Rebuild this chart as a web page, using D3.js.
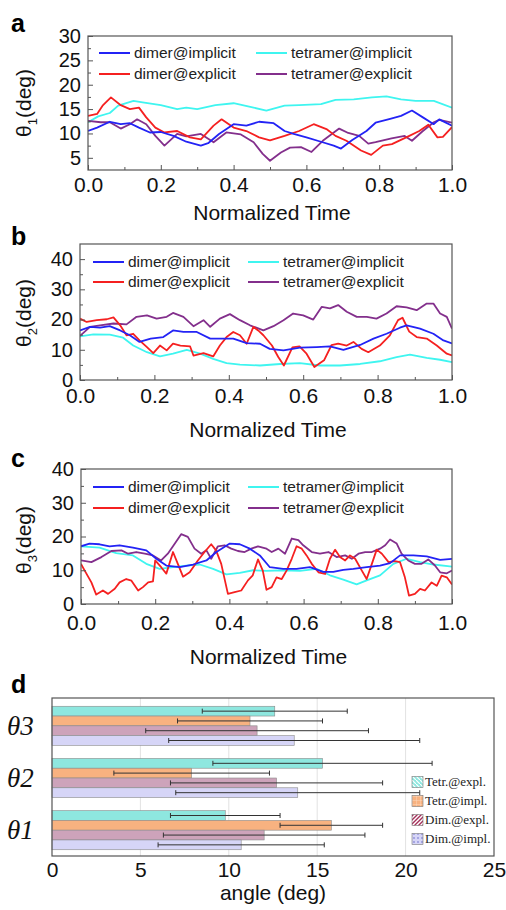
<!DOCTYPE html>
<html>
<head>
<meta charset="utf-8">
<script src="https://cdn.jsdelivr.net/npm/d3@7"></script>
<style>
    body { margin: 0; background: white; }
    svg { display: block; font-family: "Liberation Sans", Arial, sans-serif; }
</style>
</head>
<body>
<div id="chart"></div>
<script>

// panel a : theta1 vs normalized time  [t, deg]
var aDimerImpl = [[0,10.5],[0.025,11.2],[0.06,12.4],[0.09,11.9],[0.115,12.1],[0.14,11.2],[0.17,10.2],[0.2,10.3],[0.235,9.5],[0.27,8.3],[0.31,7.5],[0.33,8],[0.36,9.9],[0.4,11.9],[0.435,11.6],[0.47,12.4],[0.51,12.1],[0.54,10.5],[0.565,9.9],[0.6,9.2],[0.64,8.3],[0.675,7.5],[0.695,6.9],[0.725,8.6],[0.765,10.5],[0.79,12.2],[0.83,13],[0.86,13.6],[0.89,14.7],[0.92,13.3],[0.95,11.9],[0.965,12.9],[1.0,11.6]];
var aDimerExpl = [[0,13.6],[0.025,14],[0.04,15.7],[0.063,17.4],[0.09,15.8],[0.115,15],[0.14,15.3],[0.16,13.3],[0.185,11.2],[0.21,10.2],[0.245,10.5],[0.28,9.2],[0.31,8.8],[0.345,11.6],[0.367,12.9],[0.4,11.2],[0.435,10.5],[0.47,9.2],[0.5,8.6],[0.54,9.5],[0.58,10.5],[0.62,11.9],[0.655,10.9],[0.68,9.5],[0.71,8.5],[0.75,6.5],[0.778,5.6],[0.81,7.5],[0.835,7.8],[0.88,9.4],[0.91,10.5],[0.935,11.8],[0.96,9.2],[0.975,9.3],[1.0,11.3]];
var aTetrImpl = [[0,12.3],[0.028,13.5],[0.06,14.2],[0.083,15.7],[0.125,16.7],[0.15,16.4],[0.2,15.8],[0.245,15],[0.27,15.3],[0.3,15],[0.35,15.8],[0.4,16.2],[0.455,15.3],[0.49,14.7],[0.54,15.7],[0.58,15.8],[0.64,16],[0.68,16.9],[0.73,17],[0.78,17.4],[0.82,17.6],[0.86,17],[0.9,16.7],[0.95,16.7],[1.0,15.3]];
var aTetrExpl = [[0,12.6],[0.035,12.3],[0.06,12.3],[0.09,11],[0.115,11.9],[0.135,12.9],[0.16,11.9],[0.185,9.5],[0.21,7.5],[0.245,9.9],[0.27,9.4],[0.31,9.9],[0.345,8.2],[0.38,10.2],[0.42,9.8],[0.455,8.2],[0.48,5.8],[0.5,4.4],[0.53,6.1],[0.555,7.1],[0.585,7.2],[0.614,6.2],[0.645,8.5],[0.69,11],[0.715,10.1],[0.745,9.5],[0.77,7.9],[0.79,8.2],[0.834,9.0],[0.87,9.5],[0.89,8.5],[0.92,10.5],[0.95,12.3],[0.965,12.8],[1.0,12.2]];

// panel b : theta2
var bDimerImpl = [[0,16.4],[0.027,17.6],[0.054,17.3],[0.08,17.8],[0.108,16.4],[0.134,14.8],[0.16,12.6],[0.19,13.7],[0.224,14.2],[0.25,16.4],[0.278,15.9],[0.314,15.9],[0.35,13.7],[0.376,13.7],[0.412,13.7],[0.448,12.2],[0.484,12],[0.51,10.3],[0.547,9.8],[0.591,10.7],[0.636,10.9],[0.672,11.1],[0.708,10],[0.753,11.6],[0.789,13.7],[0.824,15.3],[0.86,17.3],[0.878,18.1],[0.914,17],[0.95,15.3],[0.977,13.1],[1.0,12.1]];
var bDimerExpl = [[0,20.3],[0.018,19.2],[0.045,19.8],[0.072,20.1],[0.09,20.7],[0.108,18.1],[0.125,14.8],[0.143,15.3],[0.16,13.1],[0.18,10.9],[0.197,8.9],[0.215,11.4],[0.233,9.8],[0.25,12],[0.27,11.4],[0.296,11.1],[0.305,8.1],[0.332,8.9],[0.358,7.8],[0.376,11.4],[0.394,14.2],[0.412,15.9],[0.43,14.8],[0.448,12],[0.466,17.6],[0.479,16.4],[0.493,14.8],[0.516,11.4],[0.533,7.6],[0.548,4.8],[0.571,10.8],[0.59,11.1],[0.609,8.7],[0.63,4.3],[0.656,6.5],[0.676,11.5],[0.694,12],[0.717,11.4],[0.735,12.6],[0.757,10.3],[0.775,9.2],[0.806,11.4],[0.833,14.8],[0.855,19.8],[0.867,20.6],[0.885,16],[0.905,14.2],[0.932,13.7],[0.959,11.4],[0.986,8.7],[1.0,8.1]];
var bTetrImpl = [[0,14.4],[0.036,15.1],[0.08,15],[0.116,14],[0.143,11.4],[0.18,9.2],[0.215,7.8],[0.25,8.7],[0.287,10],[0.323,8.7],[0.358,7],[0.394,5.6],[0.43,5.1],[0.484,4.8],[0.538,5.3],[0.591,5.6],[0.645,4.8],[0.699,4.8],[0.753,5.3],[0.806,6.2],[0.851,7.6],[0.887,8.4],[0.932,7.3],[0.968,6.7],[1.0,5.9]];
var bTetrExpl = [[0,14.6],[0.027,17.6],[0.054,18.1],[0.09,18.7],[0.125,18.4],[0.152,20.9],[0.18,21.4],[0.206,20.3],[0.233,20.9],[0.25,22.2],[0.278,20.9],[0.305,17.8],[0.332,19.8],[0.35,17.6],[0.376,20.3],[0.403,21.8],[0.43,19.8],[0.457,18.1],[0.493,16.4],[0.52,17.8],[0.547,19.8],[0.573,22],[0.6,21.4],[0.627,20],[0.65,24.2],[0.672,23.7],[0.694,24.8],[0.717,22.6],[0.744,20.9],[0.771,20.9],[0.797,20.3],[0.824,22],[0.851,24.4],[0.878,24],[0.905,23.1],[0.932,25.3],[0.95,25.3],[0.968,22],[0.986,20.9],[1.0,17]];

// panel c : theta3
var cDimerImpl = [[0,17.1],[0.023,17.9],[0.05,17.7],[0.077,17.1],[0.104,17.4],[0.14,16.7],[0.176,15.9],[0.203,13.4],[0.23,11.4],[0.266,10.9],[0.302,11.7],[0.338,12.9],[0.365,15.4],[0.401,17.9],[0.428,17.7],[0.455,16.4],[0.482,14.4],[0.509,10.9],[0.545,10.4],[0.581,10.4],[0.617,10.9],[0.653,9.5],[0.68,9.5],[0.707,10.1],[0.734,10.4],[0.77,10.9],[0.806,11.4],[0.833,12.1],[0.86,14.4],[0.896,14.4],[0.932,14.1],[0.968,13.1],[1.0,13.4]];
var cDimerExpl = [[0,11.9],[0.01,9.9],[0.028,6.4],[0.041,2.8],[0.059,4],[0.073,3],[0.091,4.5],[0.104,6.4],[0.122,7.4],[0.136,6.9],[0.154,4],[0.167,5],[0.181,6.4],[0.194,6.7],[0.2,12.9],[0.216,10.9],[0.23,9],[0.248,15.4],[0.261,11.9],[0.275,8.1],[0.293,9.4],[0.315,12.9],[0.333,15.4],[0.351,17.7],[0.364,15.9],[0.378,11.9],[0.396,3],[0.414,3.5],[0.432,4],[0.45,7],[0.463,8.5],[0.477,13.2],[0.49,9.9],[0.5,4.2],[0.514,5],[0.527,7.9],[0.541,7.4],[0.554,9.9],[0.568,13.4],[0.581,17.1],[0.595,16.4],[0.608,14.4],[0.622,11.9],[0.64,9.4],[0.658,8.9],[0.671,13.4],[0.685,16.1],[0.698,13.9],[0.712,12.9],[0.725,14.4],[0.739,13.4],[0.757,9.9],[0.77,7.4],[0.784,11.9],[0.797,16.1],[0.811,14.9],[0.829,12.4],[0.846,12.7],[0.86,12.4],[0.873,7.9],[0.884,2.5],[0.9,3],[0.914,4.5],[0.927,4],[0.945,6.4],[0.959,5.4],[0.972,8.4],[0.986,7.9],[1.0,5.8]];
var cTetrImpl = [[0,17.1],[0.05,16.7],[0.095,15.1],[0.14,14.4],[0.176,11.9],[0.212,10.4],[0.248,10.9],[0.284,11.4],[0.32,11.7],[0.356,10.4],[0.392,8.8],[0.428,9.2],[0.464,10],[0.5,9.8],[0.545,10],[0.59,9.8],[0.635,10.4],[0.671,8.5],[0.707,7.2],[0.743,5.8],[0.77,7],[0.806,8.5],[0.842,11.9],[0.878,13.4],[0.914,12.4],[0.95,11.7],[1.0,11.1]];
var cTetrExpl = [[0,12.9],[0.028,12.4],[0.055,13.9],[0.082,15.7],[0.109,15.9],[0.127,14.9],[0.149,15.4],[0.172,14.9],[0.194,14.4],[0.216,12.9],[0.234,14.9],[0.253,17.9],[0.27,20.7],[0.288,19.9],[0.306,16.4],[0.324,14.9],[0.338,15.9],[0.351,13.4],[0.369,17.1],[0.387,17.4],[0.405,16.4],[0.423,15.7],[0.441,15.4],[0.459,16.4],[0.477,17.1],[0.5,16.4],[0.514,15.4],[0.532,16.4],[0.55,14.9],[0.568,19.4],[0.586,18.9],[0.599,17.4],[0.622,15.4],[0.644,14.9],[0.667,15.4],[0.689,13.9],[0.712,14.4],[0.73,13.4],[0.748,14.9],[0.766,15.4],[0.784,15.4],[0.806,16.4],[0.82,17.4],[0.833,19.1],[0.851,17.9],[0.864,14.9],[0.882,12.9],[0.9,11.9],[0.918,11.9],[0.936,13.2],[0.954,11.4],[0.968,9.4],[0.986,9.1],[1.0,9.9]];

var seriesNames = ["dimer@implicit", "dimer@explicit", "tetramer@implicit", "tetramer@explicit"];
var seriesColors = ["#2323f5", "#f52020", "#3ff5f0", "#832f8c"];
var timeTicks = [0, 0.2, 0.4, 0.6, 0.8, 1.0];
var timeMinor = [0.1, 0.3, 0.5, 0.7, 0.9];

// panel d : mean angle with error bars, order theta3, theta2, theta1
var angleCats = ["θ3", "θ2", "θ1"];
var barSeries = ["Tetr.@expl.", "Tetr.@impl.", "Dim.@expl.", "Dim.@impl."];
var tetrExplMean = [12.6, 15.3, 9.8];
var tetrExplErr = [4.1, 6.2, 3.1];
var tetrImplMean = [11.2, 7.9, 15.8];
var tetrImplErr = [4.1, 4.4, 2.9];
var dimExplMean = [11.6, 12.7, 12.0];
var dimExplErr = [6.3, 6.0, 5.7];
var dimImplMean = [13.7, 13.9, 10.7];
var dimImplErr = [7.1, 6.9, 4.7];
var angleTicks = [0, 5, 10, 15, 20, 25];
var barColors = ["#8ee7df", "#f8b280", "#cda3ba", "#d6d5f7"];

var width = 506, height = 910;
var font = "'Liberation Sans', Arial, sans-serif";

var svg = d3.select("#chart")
    .append("svg")
    .attr("width", width)
    .attr("height", height);

var panels = [
    { letter: "a", sub: "1", series: [aDimerImpl, aDimerExpl, aTetrImpl, aTetrExpl],
      left: 88, right: 452, top: 36, bottom: 170, ymin: 2.5, ymax: 30,
      yTicks: [5, 10, 15, 20, 25, 30], yMinor: [7.5, 12.5, 17.5, 22.5, 27.5],
      letterY: 32, labelY: 103, pad: 7, titleY: 220,
      legX: [99, 256], legY: [53, 74] },
    { letter: "b", sub: "2", series: [bDimerImpl, bDimerExpl, bTetrImpl, bTetrExpl],
      left: 80, right: 452, top: 244, bottom: 380, ymin: 0, ymax: 45,
      yTicks: [0, 10, 20, 30, 40], yMinor: [5, 15, 25, 35],
      letterY: 245, labelY: 313, pad: 8, titleY: 437,
      legX: [93, 248], legY: [262, 282] },
    { letter: "c", sub: "3", series: [cDimerImpl, cDimerExpl, cTetrImpl, cTetrExpl],
      left: 81, right: 452, top: 469, bottom: 604, ymin: 0, ymax: 40,
      yTicks: [0, 10, 20, 30, 40], yMinor: [5, 15, 25, 35],
      letterY: 467, labelY: 540, pad: 11, titleY: 664,
      legX: [93, 248], legY: [487, 508] }
];

panels.forEach(function(p) {
    var x = d3.scaleLinear().domain([0, 1]).range([p.left, p.right]);
    var y = d3.scaleLinear().domain([p.ymin, p.ymax]).range([p.bottom, p.top]);
    var g = svg.append("g");

    g.append("clipPath")
        .attr("id", "clip" + p.letter)
        .append("rect")
        .attr("x", p.left).attr("y", p.top)
        .attr("width", p.right - p.left).attr("height", p.bottom - p.top);

    var line = d3.line()
        .x(function(d) { return x(d[0]); })
        .y(function(d) { return y(d[1]); });

    // draw order: cyan first so the others sit on top
    [2, 3, 1, 0].forEach(function(i) {
        g.append("path")
            .datum(p.series[i])
            .attr("clip-path", "url(#clip" + p.letter + ")")
            .attr("fill", "none")
            .attr("stroke", seriesColors[i])
            .attr("stroke-width", 1.8)
            .attr("stroke-linejoin", "round")
            .attr("d", line);
    });

    var xAxis = g.append("g")
        .attr("transform", "translate(0," + p.bottom + ")")
        .call(d3.axisBottom(x).tickValues(timeTicks).tickFormat(d3.format(".1f"))
            .tickSizeInner(-5).tickSizeOuter(0).tickPadding(p.pad));
    g.append("g")
        .attr("transform", "translate(0," + p.bottom + ")")
        .call(d3.axisBottom(x).tickValues(timeMinor).tickFormat("")
            .tickSizeInner(-3).tickSizeOuter(0));
    var yAxis = g.append("g")
        .attr("transform", "translate(" + p.left + ",0)")
        .call(d3.axisLeft(y).tickValues(p.yTicks).tickSizeInner(-5).tickSizeOuter(0).tickPadding(7));
    g.append("g")
        .attr("transform", "translate(" + p.left + ",0)")
        .call(d3.axisLeft(y).tickValues(p.yMinor).tickFormat("").tickSizeInner(-3).tickSizeOuter(0));

    g.selectAll(".domain").remove();
    g.selectAll(".tick line").attr("stroke", "#555");
    xAxis.selectAll("text").attr("font-size", "21px").attr("font-family", font).attr("fill", "#111");
    yAxis.selectAll("text").attr("font-size", "20px").attr("font-family", font).attr("fill", "#111");

    g.append("rect")
        .attr("x", p.left).attr("y", p.top)
        .attr("width", p.right - p.left).attr("height", p.bottom - p.top)
        .attr("fill", "none")
        .attr("stroke", "#555")
        .attr("stroke-width", 1.2);

    // legend, two columns
    seriesNames.forEach(function(name, i) {
        var col = i < 2 ? 0 : 1;
        var row = i % 2;
        var lx = p.legX[col], ly = p.legY[row];
        g.append("line")
            .attr("x1", lx).attr("x2", lx + 31)
            .attr("y1", ly).attr("y2", ly)
            .attr("stroke", seriesColors[i])
            .attr("stroke-width", 2);
        g.append("text")
            .attr("x", lx + 35)
            .attr("y", ly + 5)
            .attr("font-size", "15.5px")
            .attr("fill", "#222")
            .text(name);
    });

    g.append("text")
        .attr("x", 11)
        .attr("y", p.letterY)
        .attr("font-size", "25px")
        .attr("font-weight", "bold")
        .text(p.letter);

    var ylab = g.append("text")
        .attr("transform", "translate(31," + p.labelY + ") rotate(-90)")
        .attr("text-anchor", "middle")
        .attr("font-size", "21px")
        .attr("fill", "#111");
    ylab.append("tspan").text("θ");
    ylab.append("tspan").attr("font-size", "13px").attr("dy", 6).text(p.sub);
    ylab.append("tspan").attr("dy", -6).text("(deg)");

    g.append("text")
        .attr("x", (p.left + p.right) / 2 + 2)
        .attr("y", p.titleY)
        .attr("text-anchor", "middle")
        .attr("font-size", "21px")
        .attr("fill", "#111")
        .text("Normalized Time");
});

// ---- panel d : horizontal grouped bars ----
var dLeft = 52, dRight = 494, dTop = 698, dBottom = 856;
var xd = d3.scaleLinear().domain([0, 25]).range([dLeft, dRight]);
var yd = d3.scaleBand().domain(angleCats).range([700, 856]).paddingInner(0.25).paddingOuter(0.12);
var ys = d3.scaleBand().domain(barSeries).range([0, yd.bandwidth()]);

var means = [tetrExplMean, tetrImplMean, dimExplMean, dimImplMean];
var errs = [tetrExplErr, tetrImplErr, dimExplErr, dimImplErr];

var bars = [];
angleCats.forEach(function(c, ci) {
    barSeries.forEach(function(s, si) {
        bars.push({ cat: c, series: s, idx: si, mean: means[si][ci], err: errs[si][ci] });
    });
});

var dg = svg.append("g");

dg.selectAll(".grid")
    .data([5, 10, 15, 20])
    .enter().append("line")
    .attr("x1", function(d) { return xd(d); })
    .attr("x2", function(d) { return xd(d); })
    .attr("y1", dTop).attr("y2", dBottom)
    .attr("stroke", "#e2e2e2")
    .attr("stroke-width", 1);

dg.selectAll(".bar")
    .data(bars)
    .enter().append("rect")
    .attr("x", xd(0))
    .attr("y", function(d) { return yd(d.cat) + ys(d.series); })
    .attr("width", function(d) { return xd(d.mean) - xd(0); })
    .attr("height", ys.bandwidth())
    .attr("fill", function(d) { return barColors[d.idx]; })
    .attr("stroke", "#8a8a8a")
    .attr("stroke-width", 0.6);

var eb = dg.selectAll(".err")
    .data(bars)
    .enter().append("g");
eb.append("line")
    .attr("x1", function(d) { return xd(d.mean - d.err); })
    .attr("x2", function(d) { return xd(d.mean + d.err); })
    .attr("y1", function(d) { return yd(d.cat) + ys(d.series) + ys.bandwidth() / 2; })
    .attr("y2", function(d) { return yd(d.cat) + ys(d.series) + ys.bandwidth() / 2; })
    .attr("stroke", "#333")
    .attr("stroke-width", 1);
[-1, 1].forEach(function(sign) {
    eb.append("line")
        .attr("x1", function(d) { return xd(d.mean + sign * d.err); })
        .attr("x2", function(d) { return xd(d.mean + sign * d.err); })
        .attr("y1", function(d) { return yd(d.cat) + ys(d.series) + ys.bandwidth() / 2 - 2.5; })
        .attr("y2", function(d) { return yd(d.cat) + ys(d.series) + ys.bandwidth() / 2 + 2.5; })
        .attr("stroke", "#333")
        .attr("stroke-width", 1);
});

var xdAxis = dg.append("g")
    .attr("transform", "translate(0," + dBottom + ")")
    .call(d3.axisBottom(xd).tickValues(angleTicks).tickSize(0).tickPadding(6));
xdAxis.select(".domain").remove();
xdAxis.selectAll("text").attr("font-size", "21px").attr("font-family", font).attr("fill", "#111");

dg.append("text")
    .attr("x", (dLeft + dRight) / 2)
    .attr("y", 900)
    .attr("text-anchor", "middle")
    .attr("font-size", "21px")
    .attr("fill", "#111")
    .text("angle (deg)");

dg.selectAll(".cat")
    .data(angleCats)
    .enter().append("text")
    .attr("x", 7)
    .attr("y", function(d) { return yd(d) + yd.bandwidth() / 2 + 9; })
    .attr("font-family", "'Liberation Serif', 'Times New Roman', serif")
    .attr("font-style", "italic")
    .attr("font-size", "27px")
    .attr("fill", "#111")
    .text(function(d) { return d; });

dg.append("text")
    .attr("x", 11)
    .attr("y", 693)
    .attr("font-size", "25px")
    .attr("font-weight", "bold")
    .text("d");

// legend swatches with hatch patterns
var defs = svg.append("defs");
var pats = [
    { id: "pTE", bg: barColors[0], fg: "#2a9c96", kind: "back" },
    { id: "pTI", bg: barColors[1], fg: "#e07a3a", kind: "grid" },
    { id: "pDE", bg: "#ffffff", fg: "#a5305a", kind: "fwd" },
    { id: "pDI", bg: barColors[3], fg: "#8f8fd8", kind: "dots" }
];
pats.forEach(function(pt) {
    var pat = defs.append("pattern")
        .attr("id", pt.id)
        .attr("patternUnits", "userSpaceOnUse")
        .attr("width", 4).attr("height", 4);
    pat.append("rect").attr("width", 4).attr("height", 4).attr("fill", pt.bg);
    if (pt.kind == "back") {
        pat.append("path").attr("d", "M0,0 L4,4").attr("stroke", "white").attr("stroke-width", 1.2);
    } else if (pt.kind == "fwd") {
        pat.append("path").attr("d", "M0,4 L4,0 M-1,1 L1,-1 M3,5 L5,3").attr("stroke", pt.fg).attr("stroke-width", 1.4);
    } else if (pt.kind == "grid") {
        pat.append("path").attr("d", "M0,0 L4,0 M0,0 L0,4").attr("stroke", "#fde0c8").attr("stroke-width", 0.8);
    } else {
        pat.append("circle").attr("cx", 2).attr("cy", 2).attr("r", 0.9).attr("fill", pt.fg);
    }
});

var legRows = [782, 801, 820, 839];
barSeries.forEach(function(s, i) {
    dg.append("rect")
        .attr("x", 412).attr("y", legRows[i] - 5.5)
        .attr("width", 11).attr("height", 11)
        .attr("fill", "url(#" + pats[i].id + ")")
        .attr("stroke", "#777")
        .attr("stroke-width", 0.6);
    dg.append("text")
        .attr("x", 425)
        .attr("y", legRows[i] + 4)
        .attr("font-family", "'Liberation Serif', 'Times New Roman', serif")
        .attr("font-size", "13px")
        .attr("fill", "#222")
        .text(s);
});

dg.append("rect")
    .attr("x", dLeft).attr("y", dTop)
    .attr("width", dRight - dLeft).attr("height", dBottom - dTop)
    .attr("fill", "none")
    .attr("stroke", "#555")
    .attr("stroke-width", 1.2);

</script>
</body>
</html>
